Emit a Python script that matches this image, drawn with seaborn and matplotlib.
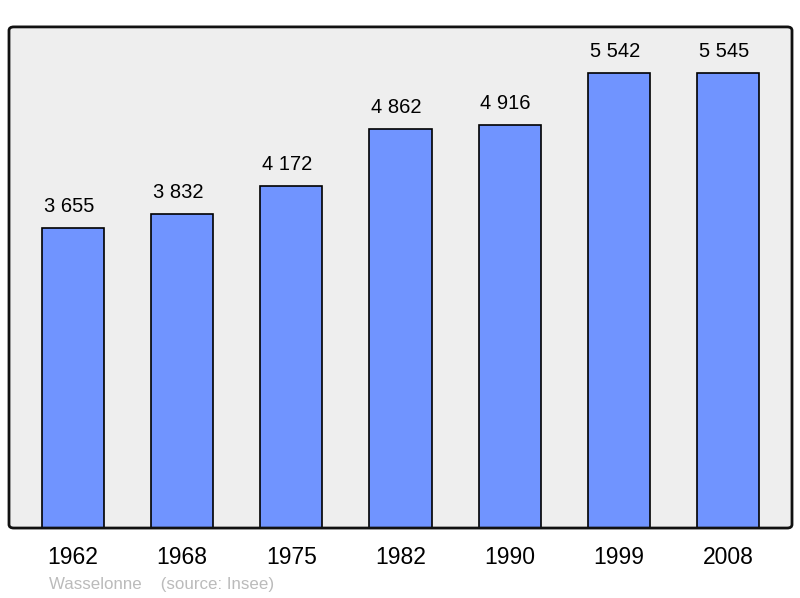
import matplotlib
matplotlib.use("Agg")
import pandas as pd
import seaborn as sns
from matplotlib import pyplot as plt
from matplotlib.patches import FancyBboxPatch

years = ["1962", "1968", "1975", "1982", "1990", "1999", "2008"]
population = [3655, 3832, 4172, 4862, 4916, 5542, 5545]
labels = ["3 655", "3 832", "4 172", "4 862", "4 916", "5 542", "5 545"]

df = pd.DataFrame({"year": years, "pop": population})

sns.set_style("white")
plt.rcParams["font.family"] = ["Liberation Sans", "DejaVu Sans"]
plt.rcParams["text.color"] = "black"
plt.rcParams["xtick.color"] = "black"

fig = plt.figure(figsize=(8, 5.98), dpi=100)
ax = fig.add_axes([0.01125, 0.117, 0.97875, 0.838])
ax.set_facecolor("#EEEEEE")

sns.barplot(data=df, x="year", y="pop", color="#7094FF", width=0.57,
            edgecolor="black", linewidth=1.2, saturation=1, ax=ax)

# value labels sit a touch left of the bar centre in the original
for i, (v, lab) in enumerate(zip(population, labels)):
    ax.annotate(lab, (i, v), xytext=(-3, 8.5), textcoords="offset points",
                ha="center", va="bottom", fontsize=14.5, color="black")

ax.set_xlim(-0.585, 6.585)
ax.set_ylim(0, 6106)
ax.set_yticks([])
ax.set_xlabel("")
ax.set_ylabel("")
ax.tick_params(axis="x", length=0, pad=13, labelsize=16.5, labelcolor="black")
for s in ax.spines.values():
    s.set_visible(False)

# rounded frame around the plot area
frame = FancyBboxPatch((0.01125, 0.117), 0.97875, 0.838,
                       boxstyle="round,pad=0,rounding_size=0.006",
                       transform=fig.transFigure, fill=False,
                       edgecolor="#111111", linewidth=2, zorder=10)
fig.patches.append(frame)

fig.text(49 / 800, 1 - 585 / 598, "Wasselonne    (source: Insee)",
         color="#BBBBBB", fontsize=12.2, va="center", ha="left")

fig.savefig("out.png", dpi=100)
